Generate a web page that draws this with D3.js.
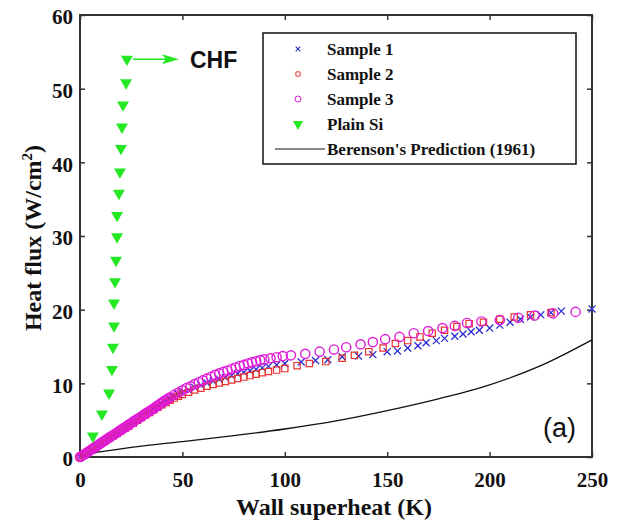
<!DOCTYPE html>
<html lang="en">
<head>
    <script src='https://d3js.org/d3.v7.min.js'></script>
    <style>
        body { margin: 0; background: #fff; }
        text { font-family: "Liberation Serif", "Times New Roman", serif; font-weight: bold; fill: #111; }
    </style>
</head>
<body>

<script>
// wall superheat (K) and heat flux (W/cm2)
var s1x = [0,2,4,6,8,10,12,14,16,18,20,22,24,26,28,30,32,34,36,38,40,42,44,46,48,50,53,56,59,62,65,68,71,74,77,80,83,86,89,92,96,100,108,115,121,128,136,143,150,155,160,165,169,174,178,183,187,191,195,200,205,210,215,220,225,230,235,250];
var s1y = [0,0.35,0.7,1.05,1.45,1.8,2.2,2.55,2.9,3.3,3.65,4.0,4.4,4.75,5.1,5.5,5.85,6.2,6.55,6.9,7.25,7.6,7.9,8.2,8.5,8.75,9.1,9.45,9.75,10.05,10.3,10.55,10.8,11.05,11.3,11.5,11.7,11.9,12.1,12.3,12.5,12.7,12.9,13.1,13.2,13.6,13.7,13.9,14.3,14.4,14.8,15.1,15.5,15.8,16.1,16.4,16.7,17.0,17.2,17.5,17.9,18.3,18.7,19.0,19.3,19.6,19.8,20.1];

var s2x = [0,2,4,6,8,10,12,14,16,18,20,22,24,26,28,30,32,34,36,38,40,42,44,46,48,50,53,56,59,62,65,68,71,74,77,80,83,86,89,92,96,100,106,112,120,128,134,141,148,154,160,166,172,178,184,190,197,205,212,220,230];
var s2y = [0,0.3,0.7,1.05,1.4,1.8,2.15,2.5,2.85,3.2,3.55,3.9,4.25,4.6,5.0,5.35,5.7,6.05,6.4,6.75,7.1,7.4,7.7,8.0,8.25,8.5,8.8,9.1,9.35,9.6,9.85,10.05,10.25,10.45,10.65,10.85,11.05,11.25,11.45,11.6,11.8,12.0,12.4,12.7,12.95,13.4,13.8,14.3,14.8,15.4,15.8,16.3,16.8,17.2,17.7,18.1,18.3,18.7,19.0,19.3,19.6];

var s3x = [0,1,2,3,4,5,6,7,8,9,10,11,12,13,14,15,16,17,18,19,20,21,22,23,24,25,26,27,28,29,30,31,32,33,34,35,36,37,38,39,40,41,42,43,44,46,48,50,52,54,56,58,60,62,64,66,68,70,72,74,76,78,80,82,84,86,88,90,93,96,99,103,110,117,124,130,137,143,149,156,163,170,177,183,189,196,205,214,222,231,242];
var s3y = [0,0.18,0.35,0.52,0.7,0.9,1.1,1.28,1.45,1.65,1.85,2.02,2.2,2.4,2.6,2.78,2.95,3.12,3.3,3.5,3.7,3.88,4.05,4.22,4.4,4.6,4.8,4.98,5.15,5.32,5.5,5.7,5.9,6.08,6.25,6.42,6.6,6.8,7.0,7.2,7.4,7.58,7.75,7.92,8.1,8.45,8.75,9.05,9.35,9.6,9.9,10.15,10.4,10.65,10.9,11.15,11.35,11.55,11.75,11.95,12.15,12.35,12.5,12.7,12.85,13.0,13.15,13.25,13.4,13.55,13.7,13.8,14.0,14.3,14.6,14.9,15.3,15.6,16.0,16.3,16.8,17.1,17.5,17.8,18.2,18.4,18.6,18.9,19.2,19.5,19.7];

var plainX = [6.3,10.7,14.2,15.6,16.1,16.6,16.6,17.1,17.6,18.1,18.1,19.0,19.5,20.0,20.5,21.0,22.5,22.9];
var plainY = [2.85,5.84,8.69,11.9,14.9,17.8,20.9,23.8,26.7,29.9,32.8,35.8,38.7,41.9,44.8,47.8,50.8,54.0];

var berX = [0,6,15,25,50,75,100,125,150,175,200,225,250];
var berY = [0,0.5,0.9,1.3,2.1,2.9,3.8,4.9,6.3,7.9,9.8,12.4,15.9];

var xTicks = [0,50,100,150,200,250];
var yTicks = [0,10,20,30,40,50,60];
var legendNames = ["Sample 1","Sample 2","Sample 3","Plain Si","Berenson's Prediction (1961)"];

var width = 619, height = 524;
var mLeft = 80, mRight = 592, mTop = 15, mBottom = 457;

var svg = d3.select("body").append("svg")
    .attr("width", width)
    .attr("height", height);

var x = d3.scaleLinear().domain([0,250]).range([mLeft,mRight]);
var y = d3.scaleLinear().domain([0,60]).range([mBottom,mTop]);

// axes, MATLAB style ticks pointing inward
var gx = svg.append("g").attr("transform","translate(0," + mBottom + ")")
    .call(d3.axisBottom(x).tickValues(xTicks).tickSizeInner(-5).tickSizeOuter(0).tickPadding(15));
var gy = svg.append("g").attr("transform","translate(" + mLeft + ",0)")
    .call(d3.axisLeft(y).tickValues(yTicks).tickSizeInner(-5).tickSizeOuter(0).tickPadding(7));
svg.append("g").attr("transform","translate(0," + mTop + ")")
    .call(d3.axisTop(x).tickValues(xTicks).tickSizeInner(-5).tickSizeOuter(0).tickFormat(""));
svg.append("g").attr("transform","translate(" + mRight + ",0)")
    .call(d3.axisRight(y).tickValues(yTicks).tickSizeInner(-5).tickSizeOuter(0).tickFormat(""));

svg.selectAll(".domain").remove();
svg.selectAll(".tick line").attr("stroke","#333").attr("stroke-width",1.5);
svg.selectAll(".tick text")
    .style("font-family","'Liberation Serif', serif")
    .style("font-weight","bold")
    .style("font-size","21px")
    .attr("fill","#111");
gy.selectAll(".tick text").attr("dy","0.42em");

svg.append("rect")
    .attr("x",mLeft).attr("y",mTop)
    .attr("width",mRight-mLeft).attr("height",mBottom-mTop)
    .attr("fill","none").attr("stroke","#333").attr("stroke-width",2);

// axis titles
svg.append("text")
    .attr("x",334).attr("y",515)
    .attr("text-anchor","middle")
    .style("font-size","24px")
    .text("Wall superheat (K)");

var yl = svg.append("text")
    .attr("transform","translate(41,238) rotate(-90)")
    .attr("text-anchor","middle")
    .style("font-size","24px");
yl.append("tspan").text("Heat flux (W/cm");
yl.append("tspan").attr("dy","-9").style("font-size","15px").text("2");
yl.append("tspan").attr("dy","9").text(")");

// Berenson prediction
var line = d3.line().x(function(d){ return x(d[0]); }).y(function(d){ return y(d[1]); }).curve(d3.curveMonotoneX);
svg.append("path")
    .datum(d3.zip(berX, berY))
    .attr("d", line)
    .attr("fill","none").attr("stroke","#111").attr("stroke-width",1.3);

var c1 = "#2b2bd6", c2 = "#e8332f", c3 = "#e01ad8", c4 = "#25e825";
var cross = d3.symbol().type(d3.symbolX).size(34);
var square = d3.symbol().type(d3.symbolSquare).size(40);
var tri = d3.symbol().type(d3.symbolTriangle).size(62);

svg.append("g").selectAll("path")
    .data(d3.zip(s1x, s1y)).enter().append("path")
    .attr("d", cross)
    .attr("transform", function(d){ return "translate(" + x(d[0]) + "," + y(d[1]) + ")"; })
    .attr("fill","none").attr("stroke",c1).attr("stroke-width",1.3);

svg.append("g").selectAll("path")
    .data(d3.zip(s2x, s2y)).enter().append("path")
    .attr("d", square)
    .attr("transform", function(d){ return "translate(" + x(d[0]) + "," + y(d[1]) + ")"; })
    .attr("fill","none").attr("stroke",c2).attr("stroke-width",1.2);

svg.append("g").selectAll("circle")
    .data(d3.zip(s3x, s3y)).enter().append("circle")
    .attr("cx", function(d){ return x(d[0]); })
    .attr("cy", function(d){ return y(d[1]); })
    .attr("r", 4.6)
    .attr("fill","none").attr("stroke",c3).attr("stroke-width",1.4);

svg.append("g").selectAll("path")
    .data(d3.zip(plainX, plainY)).enter().append("path")
    .attr("d", tri)
    .attr("transform", function(d){ return "translate(" + x(d[0]) + "," + y(d[1]) + ") rotate(180)"; })
    .attr("fill",c4);

// CHF arrow
var chf = [plainX[plainX.length-1], plainY[plainY.length-1]];
svg.append("line")
    .attr("x1", x(chf[0]) + 6).attr("x2", x(chf[0]) + 40)
    .attr("y1", y(chf[1])).attr("y2", y(chf[1]))
    .attr("stroke",c4).attr("stroke-width",1.5);
svg.append("path")
    .attr("d","M" + (x(chf[0]) + 35) + "," + (y(chf[1]) - 5) + "L" + (x(chf[0]) + 52) + "," + y(chf[1]) + "L" + (x(chf[0]) + 35) + "," + (y(chf[1]) + 5) + "L" + (x(chf[0]) + 39) + "," + y(chf[1]) + "Z")
    .attr("fill",c4);
svg.append("text")
    .attr("x", 190).attr("y", y(chf[1]) + 9)
    .style("font-family","'Liberation Sans', Arial, sans-serif")
    .style("font-size","23px")
    .text("CHF");

svg.append("text")
    .attr("x", 543).attr("y", 437)
    .style("font-family","'Liberation Sans', Arial, sans-serif")
    .style("font-weight","normal")
    .style("font-size","27px")
    .text("(a)");

// legend
var lg = svg.append("g");
lg.append("rect")
    .attr("x",263).attr("y",33).attr("width",313).attr("height",131)
    .attr("fill","#fff").attr("stroke","#111").attr("stroke-width",1.5);
var rowY = function(i){ return 49 + i*25; };
lg.selectAll("text.lab")
    .data(legendNames).enter().append("text")
    .attr("class","lab")
    .attr("x",327).attr("y",function(d,i){ return rowY(i) + 6; })
    .style("font-size","17px")
    .text(function(d){ return d; });
lg.append("path").attr("d", d3.symbol().type(d3.symbolX).size(16))
    .attr("transform","translate(298," + rowY(0) + ")")
    .attr("fill","none").attr("stroke",c1).attr("stroke-width",1.1);
lg.append("path").attr("d", d3.symbol().type(d3.symbolSquare).size(18))
    .attr("transform","translate(298," + rowY(1) + ")")
    .attr("fill","none").attr("stroke",c2).attr("stroke-width",1);
lg.append("circle").attr("cx",298).attr("cy",rowY(2)).attr("r",3)
    .attr("fill","none").attr("stroke",c3).attr("stroke-width",1);
lg.append("path").attr("d", d3.symbol().type(d3.symbolTriangle).size(45))
    .attr("transform","translate(298," + rowY(3) + ") rotate(180)")
    .attr("fill",c4);
lg.append("line").attr("x1",275).attr("x2",325).attr("y1",rowY(4)).attr("y2",rowY(4))
    .attr("stroke","#111").attr("stroke-width",1.2);
</script>

</body>
</html>
